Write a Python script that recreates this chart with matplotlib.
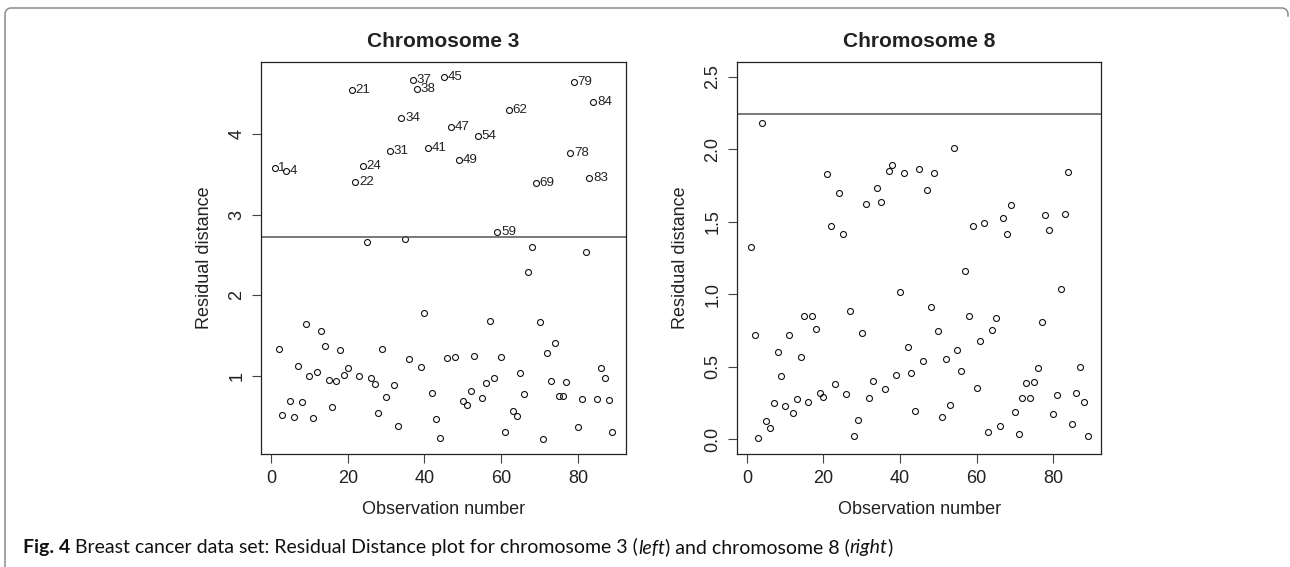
import numpy as np
import matplotlib
matplotlib.use("Agg")
import matplotlib.pyplot as plt
from matplotlib.lines import Line2D
from matplotlib import font_manager

# ---------------- data ----------------
obs = list(range(1, 90))

chr3_dist = [3.578, 1.326, 0.517, 3.544, 0.686, 0.492, 1.116, 0.674, 1.645, 1.000,
             0.471, 1.045, 1.554, 1.372, 0.950, 0.612, 0.934, 1.322, 1.004, 1.095,
             4.542, 3.408, 0.992, 3.598, 2.663, 0.971, 0.901, 0.537, 1.335, 0.731,
             3.793, 0.884, 0.376, 4.194, 2.696, 1.202, 4.666, 4.562, 1.112, 1.773,
             3.822, 0.789, 0.467, 0.223, 4.711, 1.219, 4.082, 1.231, 3.681, 0.686,
             0.640, 0.810, 1.244, 3.975, 0.723, 0.913, 1.682, 0.971, 2.779, 1.236,
             0.302, 4.293, 0.566, 0.500, 1.037, 0.769, 2.284, 2.601, 3.396, 1.661,
             0.211, 1.285, 0.934, 1.401, 0.744, 0.744, 0.921, 3.768, 4.645, 0.368,
             0.715, 2.531, 3.449, 4.393, 0.707, 1.099, 0.971, 0.694, 0.302]

chr8_dist = [1.329, 0.717, 0.011, 2.179, 0.124, 0.078, 0.253, 0.602, 0.439, 0.227,
             0.717, 0.179, 0.276, 0.568, 0.848, 0.260, 0.848, 0.763, 0.319, 0.292,
             1.827, 1.473, 0.379, 1.696, 1.414, 0.312, 0.883, 0.023, 0.135, 0.731,
             1.623, 0.283, 0.404, 1.733, 1.637, 0.349, 1.853, 1.889, 0.441, 1.016,
             1.839, 0.637, 0.455, 0.197, 1.866, 0.538, 1.722, 0.915, 1.834, 0.747,
             0.154, 0.554, 0.234, 2.007, 0.614, 0.469, 1.161, 0.848, 1.471, 0.352,
             0.678, 1.489, 0.050, 0.754, 0.839, 0.092, 1.524, 1.416, 1.618, 0.186,
             0.034, 0.283, 0.386, 0.285, 0.395, 0.489, 0.811, 1.547, 1.446, 0.172,
             0.308, 1.034, 1.552, 1.846, 0.106, 0.317, 0.499, 0.255, 0.025]

chr3_cutoff = 2.717
chr8_cutoff = 2.241
chr3_labeled = [1, 4, 21, 22, 24, 31, 34, 37, 38, 41, 45, 47, 49, 54, 59, 62,
                69, 78, 79, 83, 84]

titles = ["Chromosome 3", "Chromosome 8"]
xlabel = "Observation number"
ylabel = "Residual distance"
x_ticks = [0, 20, 40, 60, 80]
chr3_yticks = [1, 2, 3, 4]
chr8_yticks = [0.0, 0.5, 1.0, 1.5, 2.0, 2.5]

caption_pieces = [
    ("Fig. 4", "bold", "normal"),
    ("Breast cancer data set: Residual Distance plot for chromosome 3 (", "normal", "normal"),
    ("left", "normal", "italic"),
    (") and chromosome 8 (", "normal", "normal"),
    ("right", "normal", "italic"),
    (")", "normal", "normal"),
]

# ---------------- style ----------------
W, H = 1290, 567
plt.rcParams["font.family"] = ["Liberation Sans", "DejaVu Sans"]
TXT = "#222222"
fig = plt.figure(figsize=(W / 100, H / 100), dpi=100)


def px_axes(l, r, t, b):
    return fig.add_axes([l / W, 1 - b / H, (r - l) / W, (b - t) / H])


ax1 = px_axes(261.3, 626.0, 62.3, 453.7)
ax2 = px_axes(737.3, 1101.0, 62.3, 453.7)

xr = (min(obs), max(obs))
xpad = 0.04 * (xr[1] - xr[0])


def style(ax, yvals, yticks, fmt, ylim, cutoff, title):
    ax.plot(obs, yvals, linestyle="none", marker="o", ms=4.3, mfc="none",
            mec="#111111", mew=0.8)
    ax.axhline(cutoff, color="#555555", lw=1.1)
    ax.set_xlim(xr[0] - xpad, xr[1] + xpad)
    ax.set_ylim(*ylim)
    ax.set_xticks(x_ticks)
    ax.set_yticks(yticks)
    ax.set_yticklabels([fmt.format(v) for v in yticks], rotation=90,
                       va="center", ha="right")
    ax.tick_params(axis="both", direction="out", length=6.5, width=0.8,
                   color="#444444", labelsize=13, labelcolor=TXT)
    ax.tick_params(axis="x", pad=5.5)
    ax.tick_params(axis="y", pad=5.0)
    for s in ax.spines.values():
        s.set_color("#222222")
        s.set_linewidth(0.9)
    ax.set_title(title, fontsize=15, fontweight="bold", color=TXT, pad=11.2)
    ax.set_xlabel(xlabel, fontsize=13, color=TXT)
    ax.set_ylabel(ylabel, fontsize=13, color=TXT)
    ax.xaxis.set_label_coords(0.5, -0.1426)
    ax.xaxis.label.set_va("center")
    ax.yaxis.set_label_coords(-0.157, 0.5)
    ax.yaxis.label.set_va("center")


lo3, hi3 = min(chr3_dist), max(chr3_dist)
r3 = hi3 - lo3
style(ax1, chr3_dist, chr3_yticks, "{:g}", (lo3 - 0.04 * r3, hi3 + 0.04 * r3),
      chr3_cutoff, titles[0])
style(ax2, chr8_dist, chr8_yticks, "{:.1f}", (-0.1, 2.6), chr8_cutoff, titles[1])

for i in chr3_labeled:
    ax1.annotate(str(i), (obs[i - 1], chr3_dist[i - 1]), xytext=(2.6, 0),
                 textcoords="offset points", ha="left", va="center",
                 fontsize=9.6, color=TXT)

# ---------------- border ----------------
rad = 6
a = np.linspace(np.pi, np.pi / 2, 10)
xs = [5, 5] + list(5 + rad + rad * np.cos(a)) + [1288 - rad]
ys = [567, 8 + rad] + list(8 + rad - rad * np.sin(a)) + [8]
a2 = np.linspace(np.pi / 2, 0, 10)
xs += list(1288 - rad + rad * np.cos(a2)) + [1288]
ys += list(8 + rad - rad * np.sin(a2)) + [16]
fig.add_artist(Line2D([x / W for x in xs], [1 - y / H for y in ys],
                      transform=fig.transFigure, color="#8c8c8c", lw=1.1))

# ---------------- caption ----------------
cap_family = "Lato"
try:
    font_manager.findfont(font_manager.FontProperties(family=cap_family),
                          fallback_to_default=False)
except Exception:
    cap_family = "DejaVu Sans"

renderer = fig.canvas.get_renderer()


def place_caption(size, draw):
    x = 23.0
    arts = []
    for k, (txt, wt, st) in enumerate(caption_pieces):
        t = fig.text(x / W, 1 - 553.5 / H, txt, fontsize=size, fontweight=wt,
                     fontstyle=st, family=cap_family, color="#111111",
                     ha="left", va="baseline")
        w = t.get_window_extent(renderer).width
        arts.append(t)
        x += w
        if k == 0:
            sp = fig.text(0, 0, "a a", fontsize=size, family=cap_family)
            sp2 = fig.text(0, 0, "aa", fontsize=size, family=cap_family)
            x += sp.get_window_extent(renderer).width - sp2.get_window_extent(renderer).width
            sp.remove(); sp2.remove()
    if not draw:
        for t in arts:
            t.remove()
    return x - 23.0


w0 = place_caption(12, False)
place_caption(12 * 865.0 / w0, True)

fig.savefig("out.png", dpi=100)
